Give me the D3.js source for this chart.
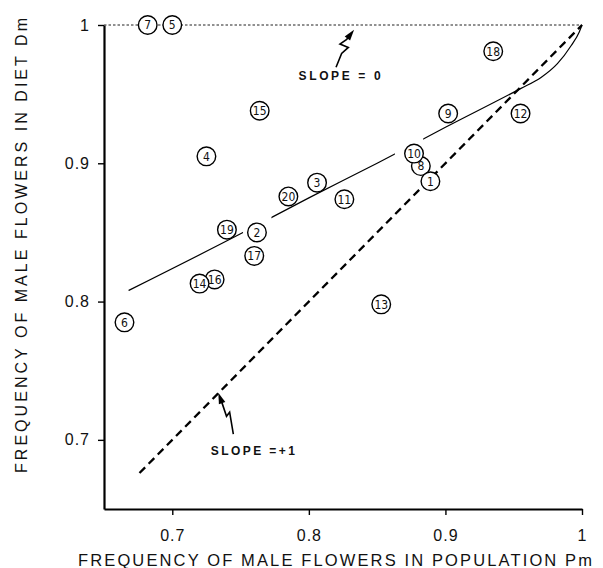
<!DOCTYPE html>
<html><head><meta charset="utf-8">
<script src="https://cdn.jsdelivr.net/npm/d3@7"></script>
<style>
body{margin:0;background:#fff;}
svg{display:block;}
</style></head>
<body>
<script>
// ---- data ----
const ids = [1,2,3,4,5,6,7,8,9,10,11,12,13,14,15,16,17,18,19,20];
const pm  = [0.889,0.762,0.806,0.725,0.700,0.665,0.682,0.882,0.902,0.877,0.826,0.955,0.853,0.720,0.764,0.731,0.760,0.935,0.740,0.785];
const dm  = [0.887,0.850,0.886,0.905,1.000,0.785,1.000,0.898,0.936,0.907,0.874,0.936,0.798,0.813,0.938,0.816,0.833,0.981,0.852,0.876];
const underneath = [8,16];           // circles partly covered by neighbours
const fitPm = [0.668,0.75,0.80,0.85,0.90,0.955,0.970,0.982,0.992,0.998,1.0];
const fitDm = [0.808,0.849,0.875,0.900,0.926,0.954,0.962,0.972,0.985,0.995,1.0];
const fitGaps = [[0.7518,0.7726],[0.863,0.8837]];
const unitLine = [0.676,1.0];        // slope = +1 reference line (Dm = Pm)
const ceilingLine = [0.65,1.0];      // slope = 0 reference at Dm = 1
const xTicks = [0.7,0.8,0.9,1];
const yTicks = [0.7,0.8,0.9,1];
const xTitle = "FREQUENCY OF MALE FLOWERS IN POPULATION Pm";
const yTitle = "FREQUENCY OF MALE FLOWERS IN DIET Dm";
const notes = [
  {text:"SLOPE = 0", at:[0.8225,0.9605], len:82,
   arrowX:[0.8199,0.8240,0.8289,0.8228,0.8277,0.8331], arrowY:[0.9694,0.9795,0.9838,0.9862,0.9896,0.9966]},
  {text:"SLOPE =+1", at:[0.7590,0.6890], len:84,
   arrowX:[0.7447,0.7420,0.7397,0.7366,0.7337], arrowY:[0.7042,0.7200,0.7170,0.7262,0.7340]}
];

// ---- layout ----
const W = 603, H = 568;
const m = {left:104, top:25, right:21, bottom:59};
const x = d3.scaleLinear().domain([0.65,1]).range([m.left, W-m.right]);
const y = d3.scaleLinear().domain([0.65,1]).range([H-m.bottom, m.top]);

const svg = d3.select("body").append("svg").attr("width",W).attr("height",H);
const font = "'Liberation Sans', Arial, Helvetica, sans-serif";

// axes
const fmt = d => d===1 ? "1" : d3.format(".1f")(d);
const gx = svg.append("g").attr("transform",`translate(0,${y(0.65)})`)
  .call(d3.axisBottom(x).tickValues(xTicks).tickFormat(fmt).tickSize(6).tickSizeOuter(0).tickPadding(15));
const gy = svg.append("g").attr("transform",`translate(${x(0.65)},0)`)
  .call(d3.axisLeft(y).tickValues(yTicks).tickFormat(fmt).tickSize(6).tickSizeOuter(0).tickPadding(8));
[gx,gy].forEach(g=>{
  g.select(".domain").attr("stroke","#000").attr("stroke-width",2.2);
  g.selectAll(".tick line").attr("stroke","#000").attr("stroke-width",1.4);
  g.selectAll(".tick text").attr("font-family",font).attr("font-size",16)
    .attr("letter-spacing",1).attr("fill","#111");
});

// axis titles
svg.append("text").attr("x",335).attr("y",566).attr("text-anchor","middle")
  .attr("font-family",font).attr("font-size",16.5).attr("fill","#111")
  .attr("textLength",514).attr("lengthAdjust","spacing").text(xTitle);
svg.append("text").attr("transform","translate(26.5,245.5) rotate(-90)").attr("text-anchor","middle")
  .attr("font-family",font).attr("font-size",16).attr("fill","#111")
  .attr("textLength",455).attr("lengthAdjust","spacing").text(yTitle);

// slope = 0 dotted line
svg.append("line").attr("x1",x(ceilingLine[0])).attr("x2",x(ceilingLine[1]))
  .attr("y1",y(1)).attr("y2",y(1)).attr("stroke","#222").attr("stroke-width",1)
  .attr("stroke-dasharray","2.5,2");

// slope = +1 dashed line
svg.append("line").attr("x1",x(unitLine[0])).attr("y1",y(unitLine[0]))
  .attr("x2",x(unitLine[1])).attr("y2",y(unitLine[1]))
  .attr("stroke","#000").attr("stroke-width",2.3).attr("stroke-dasharray","8,5");

// fitted curve with gaps
const mask = svg.append("defs").append("mask").attr("id","fitmask").attr("maskUnits","userSpaceOnUse");
mask.append("rect").attr("x",0).attr("y",0).attr("width",W).attr("height",H).attr("fill","#fff");
fitGaps.forEach(g=>mask.append("rect").attr("x",x(g[0])).attr("width",x(g[1])-x(g[0]))
  .attr("y",0).attr("height",H).attr("fill","#000"));
const fitPts = fitPm.map((p,i)=>[p,fitDm[i]]);
svg.append("path").attr("d",d3.line().x(d=>x(d[0])).y(d=>y(d[1])).curve(d3.curveMonotoneX)(fitPts))
  .attr("fill","none").attr("stroke","#000").attr("stroke-width",1.2).attr("mask","url(#fitmask)");

// annotations
notes.forEach(n=>{
  const pts = n.arrowX.map((v,i)=>[x(v),y(n.arrowY[i])]);
  const tip = pts[pts.length-1], prev = pts[pts.length-2];
  const ang = Math.atan2(tip[1]-prev[1], tip[0]-prev[0]);
  const L=11, Wd=3.4;
  const bx = tip[0]-L*Math.cos(ang), by = tip[1]-L*Math.sin(ang);
  const shaft = pts.slice(0,-1).concat([[bx+0.5*L*Math.cos(ang), by+0.5*L*Math.sin(ang)]]);
  svg.append("path").attr("d",d3.line()(shaft))
    .attr("fill","none").attr("stroke","#000").attr("stroke-width",1.6).attr("stroke-linejoin","miter");
  const px = -Math.sin(ang)*Wd, py = Math.cos(ang)*Wd;
  svg.append("path").attr("d",`M${tip[0]},${tip[1]}L${bx+px},${by+py}L${bx-px},${by-py}Z`).attr("fill","#000");
  svg.append("text").attr("x",x(n.at[0])).attr("y",y(n.at[1])).attr("text-anchor","middle")
    .attr("font-family",font).attr("font-weight","bold").attr("font-size",12).attr("fill","#111")
    .attr("textLength",n.len).attr("lengthAdjust","spacing").text(n.text);
});

// data circles
const pts = ids.map((id,i)=>({id, p:pm[i], d:dm[i]}));
pts.sort((a,b)=>(underneath.includes(b.id)?1:0)-(underneath.includes(a.id)?1:0));
const g = svg.append("g").selectAll("g").data(pts).join("g")
  .attr("transform",d=>`translate(${x(d.p)},${y(d.d)})`);
g.append("circle").attr("r",9.3).attr("fill","#fff").attr("stroke","#000").attr("stroke-width",1.4);
g.append("text").attr("text-anchor","middle").attr("dy","0.36em")
  .attr("font-family","'Liberation Sans Narrow','DejaVu Sans Condensed',sans-serif")
  .attr("font-size",12).attr("fill","#111").text(d=>d.id);
</script>
</body></html>
